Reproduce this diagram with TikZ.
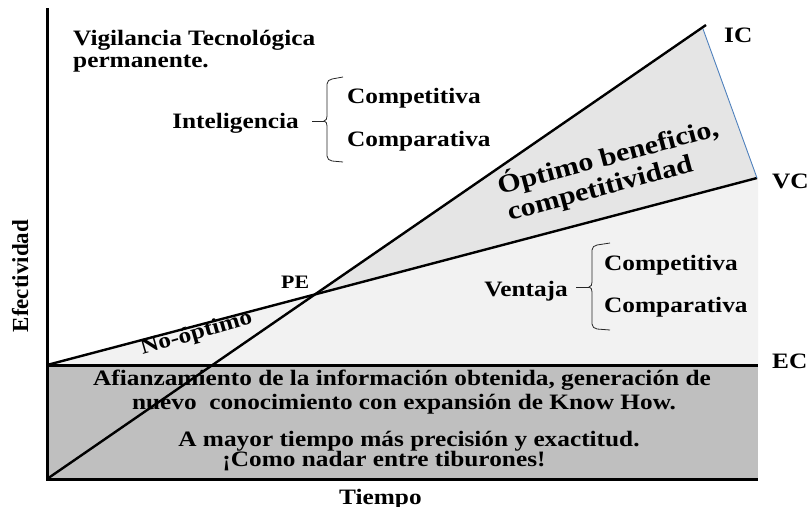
\documentclass[tikz,border=0pt]{standalone}
\usepackage{fontspec}
\setmainfont{Liberation Serif}[FakeStretch=1.15]
\newfontfamily\plainserif{Liberation Serif}
\definecolor{linkblue}{RGB}{79,129,189}
\begin{document}
\begin{tikzpicture}[x=1pt,y=-1pt,
  lbl/.style={font=\bfseries\fontsize{22}{26}\selectfont, inner sep=0pt},
  big/.style={font=\bfseries\fontsize{26}{30}\selectfont, inner sep=0pt},
  axisline/.style={line width=3pt, line cap=butt},
  mainline/.style={line width=2.4pt},
  bracestyle/.style={draw=black!85, line width=0.8pt},
  bluelink/.style={draw=linkblue, line width=0.9pt}
]
\useasboundingbox (0,0) rectangle (810,506);
% key points
\coordinate (O)  at (47,479);
\coordinate (Top) at (47,8);
\coordinate (Xend) at (758,479);
\coordinate (E0) at (47,365);
\coordinate (Eend) at (758,365);
\coordinate (ICp) at (706,25);
\coordinate (ICb) at (703,29);
\coordinate (VCp) at (757,178);
\coordinate (PE) at (315,294);
% fills
\fill[gray!50] (E0) rectangle (Xend);
\fill[gray!10] (E0) -- (VCp) -- (758,178) -- (Eend) -- cycle;
\fill[gray!20] (PE) -- (ICb) -- (VCp) -- cycle;
% box text
\node[lbl, anchor=base] (t1) at (402,385) {Afianzamiento de la información obtenida, generación de};
\node[lbl, anchor=base] (t2) at (404,409) {nuevo\ \ conocimiento con expansión de Know How.};
\node[lbl, anchor=base] (t3) at (409,446) {A mayor tiempo más precisión y exactitud.};
\node[lbl, anchor=base] (t4) at (384,466) {¡Como nadar entre tiburones!};
% lines
\draw[mainline] (O) -- (ICp);
\draw[mainline] (E0) -- (VCp);
\draw[axisline] (E0) -- (Eend);
\draw[bluelink] (ICb) -- (VCp);
\draw[axisline] (Top) -- (O) -- (Xend);
% labels
\node[lbl, anchor=base west] (IC) at (724,42) {IC};
\node[lbl, anchor=base west] (VC) at (772,188) {VC};
\node[lbl, anchor=base west] (EC) at (772,368) {EC};
\node[lbl, font=\bfseries\fontsize{19}{22}\selectfont, anchor=base west] (PEl) at (281,288) {PE};
\node[lbl, anchor=base west] (vig1) at (73,45) {Vigilancia Tecnológica};
\node[lbl, anchor=base west] (vig2) at (73,67) {permanente.};
% Inteligencia brace
\node[lbl, anchor=base east] (intel) at (299,128) {Inteligencia};
\node[lbl, anchor=base west] (ic1) at (347,103) {Competitiva};
\node[lbl, anchor=base west] (ic2) at (347,146) {Comparativa};
\coordinate (ib) at (324,121);
\draw[bracestyle] (343,77) -- (332,79) to[out=190,in=90] (327,84) -- (327,116) to[out=-90,in=0] (ib) to[out=0,in=90] (327,126) -- (327,156) to[out=-90,in=170] (332,161) -- (343,162);
\draw[bracestyle] (312,121) -- (ib);
% Ventaja brace
\node[lbl, anchor=base east] (vent) at (568,296) {Ventaja};
\node[lbl, anchor=base west] (vc1) at (604,270) {Competitiva};
\node[lbl, anchor=base west] (vc2) at (604,312) {Comparativa};
\coordinate (vb) at (589,287);
\draw[bracestyle] (610,243) -- (597,245) to[out=190,in=90] (592,250) -- (592,282) to[out=-90,in=0] (vb) to[out=0,in=90] (592,292) -- (592,324) to[out=-90,in=170] (597,329) -- (610,330);
\draw[bracestyle] (576,287) -- (vb);
% rotated texts
\node[big, anchor=base, rotate=15] (opt1) at (610,165) {Óptimo beneficio,};
\node[big, anchor=base, rotate=15] (opt2) at (602,196) {competitividad};
\node[lbl, anchor=base, rotate=16] (noopt) at (198,339) {No-óptimo};
% axis titles
\node[inner sep=0pt, font=\plainserif\bfseries\fontsize{23}{26}\selectfont, rotate=90, anchor=base] (efe) at (28,276) {Efectividad};
\node[lbl, anchor=base west] (tiempo) at (339,504) {Tiempo};
\end{tikzpicture}
\end{document}
